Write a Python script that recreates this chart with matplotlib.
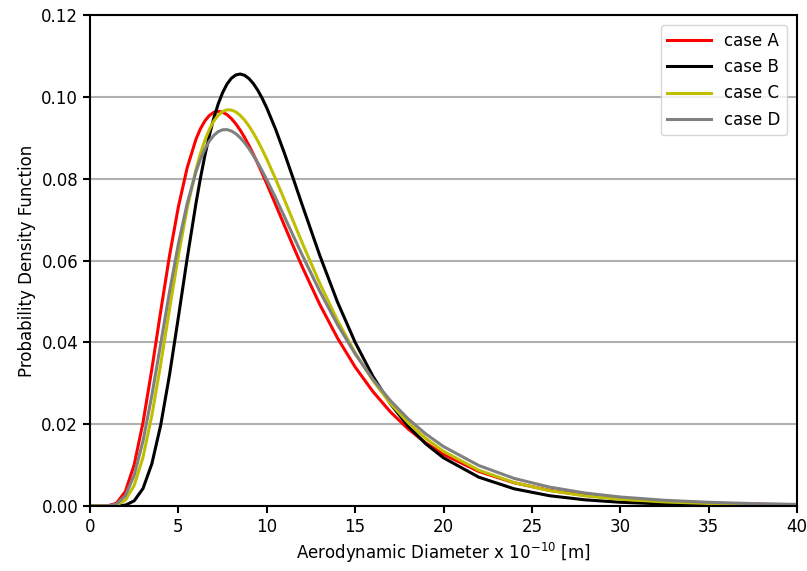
import matplotlib
matplotlib.use("Agg")
import matplotlib.pyplot as plt
import numpy as np

# diameters (x 1e-10 m) at which the curves were read
x = [0, 1, 1.5, 2, 2.5, 3, 3.5, 4, 4.5, 5, 5.5, 6,
     6.25, 6.5, 6.75, 7, 7.25, 7.5, 7.75, 8, 8.25, 8.5, 8.75, 9, 9.25, 9.5, 9.75, 10,
     10.5, 11, 11.5, 12, 13, 14, 15, 16, 17, 18, 19, 20, 22, 24, 26, 28, 30,
     32.5, 35, 37.5, 40]

case_a = [0, 0.00004, 0.00069, 0.00355, 0.01009, 0.02043, 0.03348, 0.04759, 0.06119,
          0.07312, 0.08270, 0.08970,
          0.09221, 0.09411, 0.09542, 0.09619, 0.09645, 0.09625, 0.09565, 0.09468,
          0.09340, 0.09184, 0.09005, 0.08805, 0.08590, 0.08361, 0.08122, 0.07876,
          0.07368, 0.06854, 0.06346, 0.05851, 0.04926,
          0.04106, 0.03398, 0.02800, 0.02298, 0.01883, 0.01541, 0.01261, 0.00844,
          0.00567, 0.00383, 0.00260, 0.00178, 0.00112, 0.000715, 0.00046, 0.0003]
case_b = [0, 0, 0.00001, 0.00021, 0.00126, 0.00428, 0.01033, 0.01976, 0.03208,
          0.04615, 0.06057, 0.07409,
          0.08016, 0.08567, 0.09053, 0.09473, 0.09822, 0.10100, 0.10311, 0.10454,
          0.10535, 0.10558, 0.10526, 0.10444, 0.10319, 0.10155, 0.09957, 0.09730,
          0.09208, 0.08622, 0.08000, 0.07365, 0.06123,
          0.04987, 0.04001, 0.03173, 0.02496, 0.01951, 0.01518, 0.01177, 0.00704,
          0.00420, 0.00251, 0.00151, 0.00091, 0.00049, 0.00027, 0.00015, 0.00008]
case_c = [0, 0.00001, 0.0002, 0.00141, 0.00501, 0.01195, 0.02216, 0.03466, 0.04811,
          0.06116, 0.07277, 0.08230,
          0.08616, 0.08940, 0.09201, 0.09405, 0.09550, 0.09641, 0.09683, 0.09678,
          0.09631, 0.09547, 0.09430, 0.09283, 0.09111, 0.08917, 0.08706, 0.08479,
          0.07994, 0.07482, 0.06959, 0.06438, 0.05441,
          0.04536, 0.03745, 0.03070, 0.02504, 0.02035, 0.01650, 0.01336, 0.00874,
          0.00572, 0.00376, 0.00249, 0.00165, 0.00100, 0.000614, 0.00038, 0.00024]
case_d = [0, 0.00002, 0.00046, 0.00251, 0.00753, 0.01593, 0.02707, 0.03966, 0.05237,
          0.06405, 0.07398, 0.08176,
          0.08478, 0.08724, 0.08916, 0.09056, 0.09148, 0.09194, 0.09199, 0.09165,
          0.09098, 0.09001, 0.08877, 0.08730, 0.08563, 0.08380, 0.08182, 0.07974,
          0.07532, 0.07071, 0.06603, 0.06139, 0.05247,
          0.04435, 0.03718, 0.03100, 0.02573, 0.02130, 0.01760, 0.01453, 0.00989,
          0.00674, 0.00462, 0.00318, 0.00220, 0.00140, 0.000904, 0.00059, 0.00039]

labels = ["case A", "case B", "case C", "case D"]
colors = ["red", "black", "#bfbf00", "grey"]

plt.rcParams['font.family'] = ['DejaVu Sans']
plt.rcParams['font.size'] = 12

fig = plt.figure(figsize=(8.07, 5.71), dpi=100)
ax = fig.add_axes([90/807, 65/571, 707/807, 491/571])

for ys, lab, col in zip([case_a, case_b, case_c, case_d], labels, colors):
    ax.plot(x, ys, color=col, lw=2.2, label=lab)

ax.set_xlim(0, 40)
ax.set_ylim(0, 0.12)
ax.set_xticks(np.arange(0, 41, 5))
ax.set_yticks(np.arange(0, 0.121, 0.02))
ax.yaxis.grid(True, color='#b0b0b0', lw=1.5)
ax.set_axisbelow(True)
for sp in ax.spines.values():
    sp.set_linewidth(1.5)
ax.tick_params(width=1.5, length=5)
ax.set_xlabel(r"Aerodynamic Diameter x $10^{-10}$ [m]")
ax.set_ylabel("Probability Density Function")
ax.legend(loc='upper right', handlelength=2.6, borderaxespad=0.6)

fig.savefig("out.png", dpi=100)
